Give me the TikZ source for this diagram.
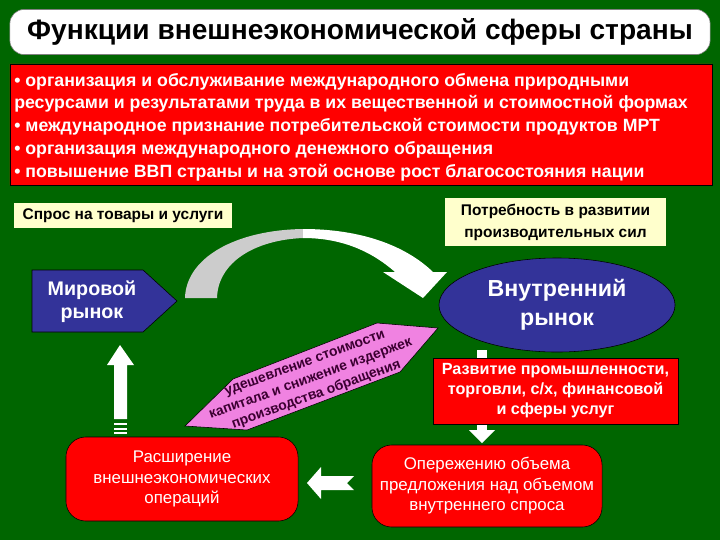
\documentclass[tikz,border=0pt]{standalone}
\usepackage{fontspec}
\setmainfont{Liberation Sans}
\usetikzlibrary{shapes.geometric,shapes.misc}
\definecolor{bggreen}{RGB}{0,102,0}
\definecolor{boxred}{RGB}{255,0,0}
\definecolor{paleyellow}{RGB}{255,255,204}
\definecolor{marketblue}{RGB}{51,51,153}
\definecolor{lilac}{RGB}{240,130,225}
\definecolor{arcgray}{RGB}{204,204,204}
\definecolor{darkplum}{RGB}{60,0,50}

\begin{document}
\begin{tikzpicture}[x=0.025cm,y=-0.025cm,
  every node/.style={inner sep=0pt},
  titlebox/.style={draw=black!50,fill=white,rounded corners=10pt,minimum width=17.5cm,minimum height=1.125cm,font=\fontsize{20}{24}\selectfont\bfseries},
  listbox/.style={chamfered rectangle,chamfered rectangle xsep=3pt,chamfered rectangle ysep=3pt,draw=black,fill=boxred,minimum width=17.55cm,minimum height=3.025cm},
  listtext/.style={text=white,align=left,font=\fontsize{12.6}{16.2}\selectfont\bfseries},
  notebox/.style={fill=paleyellow,align=center,font=\fontsize{11}{15.6}\selectfont\bfseries},
  markettext/.style={text=white,align=center,font=\fontsize{14}{16.4}\selectfont\bfseries},
  redbox/.style={draw=black,fill=boxred,text=white,align=center},
  whitearrow/.style={fill=white}]
\useasboundingbox (0,0) rectangle (720,540);
\fill[bggreen] (0,0) rectangle (720,540);

\node[titlebox] (title) at (360,32) {Функции внешнеэкономической сферы страны};
\node[listbox] (funcs) at (361,124.5) {};
\node[listtext,anchor=west] (funclist) at (14,127) {• организация и обслуживание международного обмена природными\\
ресурсами и результатами труда в их вещественной и стоимостной формах\\
• международное признание потребительской стоимости продуктов МРТ\\
• организация международного денежного обращения\\
• повышение ВВП страны и на этой основе рост благосостояния нации};

\node[notebox,minimum width=5.45cm,minimum height=0.625cm] (demand) at (123,215.5) {Спрос на товары и услуги};
\node[notebox,minimum width=5.525cm,minimum height=1.2cm] (need) at (555.5,222) {Потребность в развитии\\производительных сил};

\filldraw[fill=marketblue,draw=black] (32,270) -- (143,270) -- (177,301) -- (143,332) -- (32,332) -- cycle;
\node[markettext] (world) at (92,302) {Мировой\\рынок};
\node[ellipse,draw=black,fill=marketblue,text=white,align=center,minimum width=5.9cm,minimum height=2.35cm,font=\fontsize{16.5}{20.6}\selectfont\bfseries] (home) at (557,305) {Внутренний\\рынок};

\fill[arcgray] (185,298) .. controls (186,258) and (235,230) .. (303,229) -- (303,238) .. controls (255,240) and (218,262) .. (217,298) -- cycle;
\fill[white] (303,229) .. controls (360,229) and (405,245) .. (433,272) -- (447,272) -- (423,298) -- (383,272) -- (395,272) .. controls (370,250) and (340,238) .. (303,238) -- cycle;

\filldraw[fill=lilac,draw=black] (185,426) -- (233,379) -- (377,323) -- (438,328) -- (400,372) -- (247,430) -- cycle;
\node[rotate=20,text=darkplum,align=center,font=\fontsize{9.9}{12}\selectfont\bfseries] (cheap) at (311,380) {удешевление стоимости\\капитала и снижение издержек\\производства обращения};

\fill[whitearrow] (477,350) rectangle (487,432);
\fill[whitearrow] (469,430) -- (495,430) -- (482,443) -- cycle;
\node[redbox,minimum width=6.125cm,minimum height=1.65cm,font=\fontsize{11.5}{14.2}\selectfont\bfseries] (industry) at (555.5,391) {Развитие промышленности,\\торговли, с/х, финансовой\\и сферы услуг};

\node[redbox,rounded corners=14pt,minimum width=5.8cm,minimum height=2.1cm,font=\fontsize{12}{14.6}\selectfont] (expand) at (182,479) {Расширение\\внешнеэкономических\\операций};
\node[redbox,rounded corners=14pt,minimum width=5.75cm,minimum height=2.05cm,font=\fontsize{12}{14.6}\selectfont] (advance) at (487,486) {Опережению объема\\предложения над объемом\\внутреннего спроса};

\fill[whitearrow] (307,483) -- (321,467) -- (321,476) -- (354,476) -- (347,483) -- (354,490) -- (321,490) -- (321,499) -- cycle;

\fill[whitearrow] (120,345) -- (134,365) -- (127,365) -- (127,419) -- (114,419) -- (114,365) -- (107,365) -- cycle;
\fill[whitearrow] (114,423) rectangle (127,425);
\fill[whitearrow] (114,427.5) rectangle (127,429.5);
\fill[whitearrow] (114,432) rectangle (127,434);
\end{tikzpicture}
\end{document}
